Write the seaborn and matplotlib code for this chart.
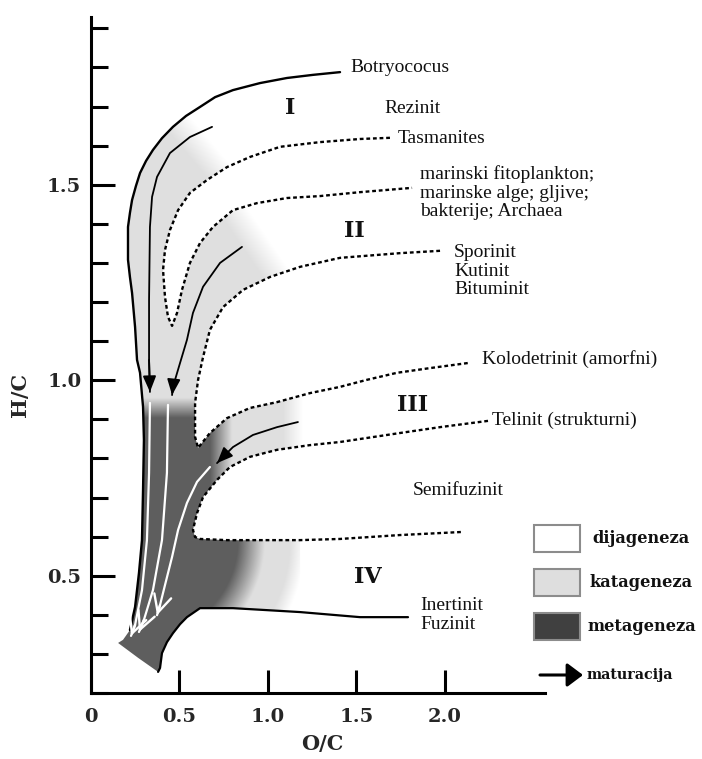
import numpy as np
import matplotlib
matplotlib.use("Agg")
import matplotlib.pyplot as plt
import seaborn as sns
from matplotlib.patches import Polygon, Rectangle
from matplotlib.ticker import FixedLocator, MultipleLocator

# ---------------- data (O/C, H/C) ----------------
# outer boundary (Botryococus line down to the bottom of the kerogen field)
outer_oc = [1.407, 1.254, 1.107, 0.955, 0.802, 0.701, 0.616, 0.537, 0.463, 0.401, 0.350,
            0.311, 0.277, 0.254, 0.232, 0.220, 0.209, 0.209, 0.209, 0.220, 0.232, 0.249,
            0.260, 0.277, 0.294, 0.299, 0.294, 0.288, 0.271, 0.249, 0.220]
outer_hc = [1.788, 1.781, 1.773, 1.760, 1.742, 1.724, 1.699, 1.676, 1.648, 1.619, 1.589,
            1.561, 1.530, 1.497, 1.461, 1.428, 1.392, 1.351, 1.308, 1.264, 1.223, 1.136,
            1.052, 1.019, 0.932, 0.847, 0.719, 0.591, 0.507, 0.420, 0.361]
# bottom corner of the field
base_oc = [0.181, 0.153, 0.266]
base_hc = [0.336, 0.328, 0.290]
# lower boundary (Inertinit / Fuzinit line)
inert_oc = [0.379, 0.390, 0.401, 0.429, 0.463, 0.503, 0.542, 0.616, 0.802, 1.181, 1.520, 1.791]
inert_hc = [0.254, 0.264, 0.302, 0.330, 0.353, 0.376, 0.394, 0.417, 0.417, 0.407, 0.394, 0.394]
# maturation paths (solid, black arrows)
typeI_oc = [0.684, 0.559, 0.446, 0.373, 0.345, 0.333, 0.328, 0.328, 0.333]
typeI_hc = [1.648, 1.622, 1.581, 1.520, 1.469, 1.392, 1.205, 1.052, 0.970]
typeII_oc = [0.853, 0.729, 0.633, 0.576, 0.542, 0.503, 0.463, 0.458]
typeII_hc = [1.341, 1.300, 1.239, 1.172, 1.103, 1.044, 0.983, 0.962]
typeIII_oc = [1.169, 1.051, 0.915, 0.802, 0.740, 0.712]
typeIII_hc = [0.893, 0.880, 0.860, 0.829, 0.801, 0.788]
# dotted boundaries
tas_oc = [1.689, 1.520, 1.294, 1.068, 0.898, 0.768, 0.655, 0.559, 0.492, 0.446, 0.418, 0.407,
          0.418, 0.435, 0.458, 0.486, 0.514, 0.559, 0.616, 0.689, 0.802, 0.938, 1.107, 1.294,
          1.520, 1.814]
tas_hc = [1.620, 1.617, 1.609, 1.597, 1.571, 1.545, 1.512, 1.479, 1.435, 1.384, 1.333, 1.282,
          1.213, 1.162, 1.139, 1.172, 1.231, 1.300, 1.351, 1.392, 1.435, 1.453, 1.466, 1.471,
          1.481, 1.492]
spor_oc = [1.972, 1.746, 1.407, 1.181, 1.011, 0.859, 0.746, 0.672, 0.633, 0.605, 0.588, 0.588,
           0.605, 0.672, 0.768, 0.898, 1.051, 1.237, 1.407, 1.559, 1.729, 1.915, 2.130]
spor_hc = [1.331, 1.325, 1.313, 1.290, 1.264, 1.231, 1.187, 1.129, 1.059, 1.001, 0.942, 0.855,
           0.827, 0.865, 0.903, 0.929, 0.944, 0.967, 0.983, 1.001, 1.019, 1.031, 1.044]
tel_oc = [2.243, 1.972, 1.746, 1.407, 1.237, 1.051, 0.898, 0.785, 0.712, 0.633, 0.599, 0.576,
          0.588, 0.616, 0.768, 1.181, 1.407, 1.746, 2.102]
tel_hc = [0.896, 0.880, 0.865, 0.842, 0.834, 0.822, 0.804, 0.778, 0.745, 0.701, 0.660, 0.617,
          0.599, 0.594, 0.591, 0.591, 0.594, 0.604, 0.612]
# white metagenesis arrows
w1_oc = [0.333, 0.328, 0.316, 0.288, 0.249, 0.226]
w1_hc = [0.942, 0.763, 0.591, 0.463, 0.374, 0.346]
w2_oc = [0.435, 0.429, 0.401, 0.350, 0.299, 0.271]
w2_hc = [0.937, 0.763, 0.591, 0.463, 0.387, 0.356]
w3_oc = [0.672, 0.599, 0.542, 0.492, 0.458, 0.418, 0.390, 0.373]
w3_hc = [0.778, 0.740, 0.686, 0.617, 0.548, 0.476, 0.425, 0.399]

# labels
ann_texts = ["Botryococus", "Rezinit", "Tasmanites",
             "marinski fitoplankton;\nmarinske alge; gljive;\nbakterije; Archaea",
             "Sporinit\nKutinit\nBituminit", "Kolodetrinit (amorfni)", "Telinit (strukturni)",
             "Semifuzinit", "Inertinit\nFuzinit"]
ann_oc = [1.463, 1.655, 1.734, 1.859, 2.051, 2.209, 2.266, 1.819, 1.859]
ann_hc = [1.799, 1.696, 1.617, 1.479, 1.279, 1.054, 0.898, 0.719, 0.3995]
roman_texts = ["I", "II", "III", "IV"]
roman_oc = [1.124, 1.486, 1.814, 1.565]
roman_hc = [1.696, 1.382, 0.937, 0.497]
x_ticks = [0, 0.5, 1.0, 1.5, 2.0]
x_ticklabels = ["0", "0.5", "1.0", "1.5", "2.0"]
y_ticks = [0.5, 1.0, 1.5]
y_ticklabels = ["0.5", "1.0", "1.5"]
legend_labels = ["dijageneza", "katageneza", "metageneza"]
legend_colors = ["#ffffff", "#dedede", "#404040"]
arrow_label = "maturacija"

# ---------------- figure ----------------
sns.set_theme(style="white")
plt.rcParams["font.family"] = ["DejaVu Serif", "DejaVu Sans"]

FIG_W, FIG_H = 702, 759
fig = plt.figure(figsize=(FIG_W / 100, FIG_H / 100), dpi=100)
fig.patch.set_facecolor("white")
ax = fig.add_axes([91 / FIG_W, 1 - 693 / FIG_H, 454 / FIG_W, 676 / FIG_H])
X_LIM = (0.0, 2.565)
Y_LIM = (0.2, 1.929)
ax.set_xlim(*X_LIM)
ax.set_ylim(*Y_LIM)
ax.set_facecolor("white")


def to_img(x, y):
    x = np.asarray(x, float)
    y = np.asarray(y, float)
    d = ax.transData.transform(np.column_stack([x.ravel(), y.ravel()]))
    return d[:, 0].reshape(x.shape), (FIG_H - d[:, 1]).reshape(x.shape)


gx = np.linspace(*X_LIM, 900)
gy = np.linspace(*Y_LIM, 1000)
GX, GY = np.meshgrid(gx, gy)
PX, PY = to_img(GX, GY)


def line_fade(p0, p1, width):
    x0, y0 = to_img(*p0)
    x1, y1 = to_img(*p1)
    dx, dy = x1 - x0, y1 - y0
    L = np.hypot(dx, dy)
    s = ((PX - (x0 + x1) / 2) * dy - (PY - (y0 + y1) / 2) * dx) / L
    return np.clip(0.5 - s / width, 0, 1)


LIGHT, DARK = 0.875, 0.37


def shade(level, alpha, verts, z=1):
    level = np.broadcast_to(level, alpha.shape)
    rgba = np.dstack([level, level, level, alpha])
    im = ax.imshow(rgba, origin="lower", extent=(*X_LIM, *Y_LIM), aspect="auto",
                   interpolation="bilinear", zorder=z)
    patch = Polygon(verts, closed=True, transform=ax.transData,
                    facecolor="none", edgecolor="none")
    ax.add_patch(patch)
    im.set_clip_path(patch)


def pts(xs, ys):
    return list(zip(xs, ys))


A = pts(outer_oc, outer_hc)
D = pts(tas_oc, tas_hc)
E = pts(spor_oc, spor_hc)
F = pts(tel_oc, tel_hc)
Hh = pts(inert_oc, inert_hc)
a_hi = outer_hc.index(1.742)     # start of the shaded band on the outer line
a_mid = outer_hc.index(0.932)    # top of the metageneza zone
d_v = tas_hc.index(1.139)        # bottom of the Tasmanites "V"
e_v = spor_hc.index(0.942)

# katageneza band of type I (left of the Tasmanites V)
k1a = A[a_hi:a_mid + 1] + [E[e_v]] + D[d_v::-1]
shade(LIGHT, line_fade((0.475, 1.665), (0.701, 1.543), 26), k1a)
# katageneza band of type II
k1b = D[d_v:] + E[0:e_v + 1] + A[a_mid:a_mid - 3:-1]
shade(LIGHT, line_fade((0.825, 1.417), (1.028, 1.282), 26), k1b)

# metageneza field + lower/III katageneza halo
n_in = inert_oc.index(1.181)
M = A[a_mid - 1:] + pts(base_oc, base_hc) + Hh[0:n_in + 1] + F[15:3:-1] + E[17:8:-1]
cx, cy = to_img(0.277, 0.591)
r = np.hypot(PX - cx, np.clip(PY - cy, 0, None))
y_top = to_img(0, 0.954)[1]
x_dark = to_img(0.797, 0)[0]
x_fade = to_img(1.141, 0)[0]
x_force = to_img(0.644, 0)[0]
d_top = np.clip((PY - y_top) / 20, 0, 1)
d_right = np.clip((x_dark - PX) / 22, 0, 1)
force = np.clip((x_force - PX) / 8, 0, 1)
upper = PY < cy
Dm = np.where(upper, np.minimum(d_top, d_right),
              np.maximum(np.clip((125 - r) / 27, 0, 1), force))
Am = np.where(upper, np.clip(0.5 - (PX - x_fade) / 20, 0, 1),
              np.maximum(np.clip((165 - r) / 15, 0, 1), force))
shade(LIGHT + (DARK - LIGHT) * Dm, Am, M, z=1.5)


def curve(xs, ys, **kw):
    sns.lineplot(x=xs, y=ys, sort=False, estimator=None, errorbar=None, ax=ax,
                 legend=False, **kw)


def arrow_end(xs, ys, style, color, lw, ms, z):
    ax.annotate("", xy=(xs[-1], ys[-1]), xytext=(xs[-2], ys[-2]),
                arrowprops=dict(arrowstyle=style, color=color, lw=lw, shrinkA=0,
                                shrinkB=0, mutation_scale=ms),
                zorder=z)


DOT = (0, (1.6, 1.2))
curve(outer_oc, outer_hc, color="black", linewidth=1.7, zorder=3)
curve(inert_oc, inert_hc, color="black", linewidth=1.6, zorder=3)
for xs, ys in [(tas_oc, tas_hc), (spor_oc, spor_hc), (tel_oc, tel_hc)]:
    curve(xs, ys, color="black", linewidth=1.7, linestyle=DOT, zorder=3)
for xs, ys in [(typeI_oc, typeI_hc), (typeII_oc, typeII_hc), (typeIII_oc, typeIII_hc)]:
    curve(xs, ys, color="black", linewidth=1.3, zorder=3)
    arrow_end(xs, ys, "-|>,head_length=0.6,head_width=0.25", "black", 1.3, 16, 4)
for xs, ys in [(w1_oc, w1_hc), (w2_oc, w2_hc), (w3_oc, w3_hc)]:
    curve(xs, ys, color="white", linewidth=1.6, zorder=4)
    arrow_end(xs, ys, "->,head_length=0.7,head_width=0.35", "white", 1.7, 18, 4)

ax.set_xlim(*X_LIM)
ax.set_ylim(*Y_LIM)

# ---------------- axes styling ----------------
for s in ["top", "right"]:
    ax.spines[s].set_visible(False)
for s in ["left", "bottom"]:
    ax.spines[s].set_color("black")
    ax.spines[s].set_linewidth(2.2)
    ax.spines[s].set_zorder(5)
ax.xaxis.set_major_locator(FixedLocator(x_ticks))
ax.set_xticklabels(x_ticklabels, fontsize=14, fontweight="bold")
ax.yaxis.set_major_locator(FixedLocator(y_ticks))
ax.yaxis.set_minor_locator(MultipleLocator(0.1))
ax.set_yticklabels(y_ticklabels, fontsize=14, fontweight="bold")
ax.tick_params(axis="y", which="major", direction="in", length=17, width=2.2,
               color="black", pad=7, left=True)
ax.tick_params(axis="y", which="minor", direction="in", length=12, width=2.2,
               color="black", left=True)
ax.tick_params(axis="x", which="major", direction="in", length=16.5, width=2.2,
               color="black", pad=11, bottom=True)
ax.grid(False)
ax.set_xlabel("O/C", fontsize=15, fontweight="bold")
ax.set_ylabel("H/C", fontsize=15, fontweight="bold")
ax.xaxis.set_label_coords((322 - 91) / 454, (693 - 744) / 676)
ax.yaxis.set_label_coords((20 - 91) / 454, (693 - 395) / 676)
ax.xaxis.label.set_va("center")
ax.yaxis.label.set_va("center")

# ---------------- annotations ----------------
for t, x, y in zip(ann_texts, ann_oc, ann_hc):
    ax.text(x, y, t, ha="left", va="center", fontsize=14, family="Liberation Serif",
            color="#111111", linespacing=1.12, zorder=6)
for t, x, y in zip(roman_texts, roman_oc, roman_hc):
    ax.text(x, y, t, ha="center", va="center", fontsize=16, fontweight="bold",
            color="#111111", zorder=6)

# ---------------- legend ----------------
box_bottoms = [(693 - 552) / 676, (693 - 596) / 676, (693 - 640) / 676]
text_x = [(592 - 91) / 454, (589 - 91) / 454, (587 - 91) / 454]
for lab, col, yb, tx in zip(legend_labels, legend_colors, box_bottoms, text_x):
    ax.add_patch(Rectangle(((534 - 91) / 454, yb), 46 / 454, 27 / 676,
                           transform=ax.transAxes, facecolor=col, edgecolor="#8c8c8c",
                           linewidth=1.5, clip_on=False, zorder=6))
    ax.text(tx, yb + 13.5 / 676, lab, transform=ax.transAxes, ha="left", va="center",
            fontsize=11.7, fontweight="bold", color="#111111")
ya = (693 - 675) / 676
ax.annotate("", xy=((583 - 91) / 454, ya), xytext=((540 - 91) / 454, ya),
            xycoords="axes fraction", textcoords="axes fraction",
            arrowprops=dict(arrowstyle="-|>,head_length=0.6,head_width=0.45", color="black",
                            lw=2.2, shrinkA=0, shrinkB=0, mutation_scale=16),
            annotation_clip=False)
ax.text((587 - 91) / 454, ya, arrow_label, transform=ax.transAxes, ha="left", va="center",
        fontsize=10.3, fontweight="bold", color="#111111")

fig.savefig("out.png", dpi=100)
